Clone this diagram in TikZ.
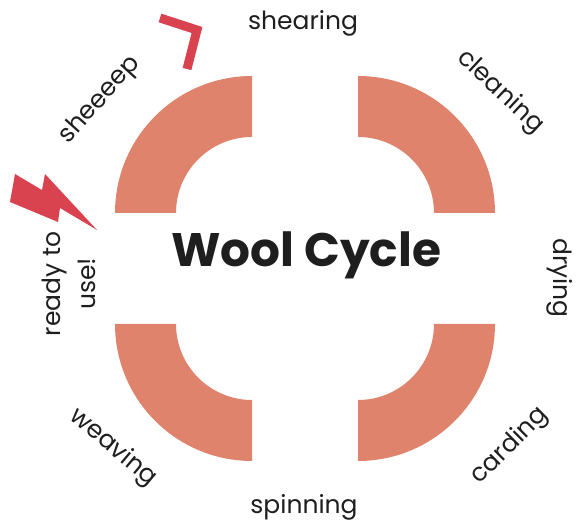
\documentclass[tikz,border=0pt]{standalone}
\usepackage{fontspec}
\setmainfont{Poppins}
\usetikzlibrary{calc}
\definecolor{WoolSalmon}{HTML}{E0836C}
\definecolor{WoolRed}{HTML}{D8434F}
\definecolor{WoolInk}{HTML}{1E1E1E}

\begin{document}
\begin{tikzpicture}[x=1pt, y=1pt,
    steplabel/.style={font=\fontsize{25}{35}\selectfont, WoolInk, inner sep=0pt}]
    \useasboundingbox (0,0) rectangle (579,524);

    % Quarter rings
    \foreach \cx/\cy/\a in {252/311/90, 358/311/0, 252/200/180, 358/200/270}{
        \fill[WoolSalmon] (\cx,\cy) ++(\a:137) arc[start angle=\a, end angle=\a+90, radius=137]
            -- ($(\cx,\cy)+(\a+90:76)$) arc[start angle=\a+90, end angle=\a, radius=76] -- cycle;
    }

    % Title
    \node[font=\fontsize{47}{52}\selectfont\bfseries, WoolInk, anchor=base] (title) at (306,257) {Wool Cycle};

    % Steps round the ring
    \node[steplabel, anchor=base] (shearing) at (303,494) {shearing};
    \node[steplabel, rotate=-43] (cleaning) at (500,432) {cleaning};
    \node[steplabel, rotate=-90] (drying) at (560,246) {drying};
    \node[steplabel, rotate=45] (carding) at (510,78) {carding};
    \node[steplabel, anchor=base] (spinning) at (304,10) {spinning};
    \node[steplabel, rotate=-40] (weaving) at (113,76) {weaving};
    \node[steplabel, rotate=90, align=center] (ready) at (69,240) {ready to\\use!};
    \node[steplabel, rotate=48] (sheeeep) at (100,424) {sheeeep};

    % Shears blade
    \draw[WoolRed, line width=9pt, line join=miter] (160,506) -- (197,494) -- (187,455);

    % Lightning bolt
    \fill[WoolRed] (15,350) -- (42,334) -- (45,350) -- (97,294) -- (60,316) -- (58,302) -- (10,322) -- cycle;

\end{tikzpicture}
\end{document}
